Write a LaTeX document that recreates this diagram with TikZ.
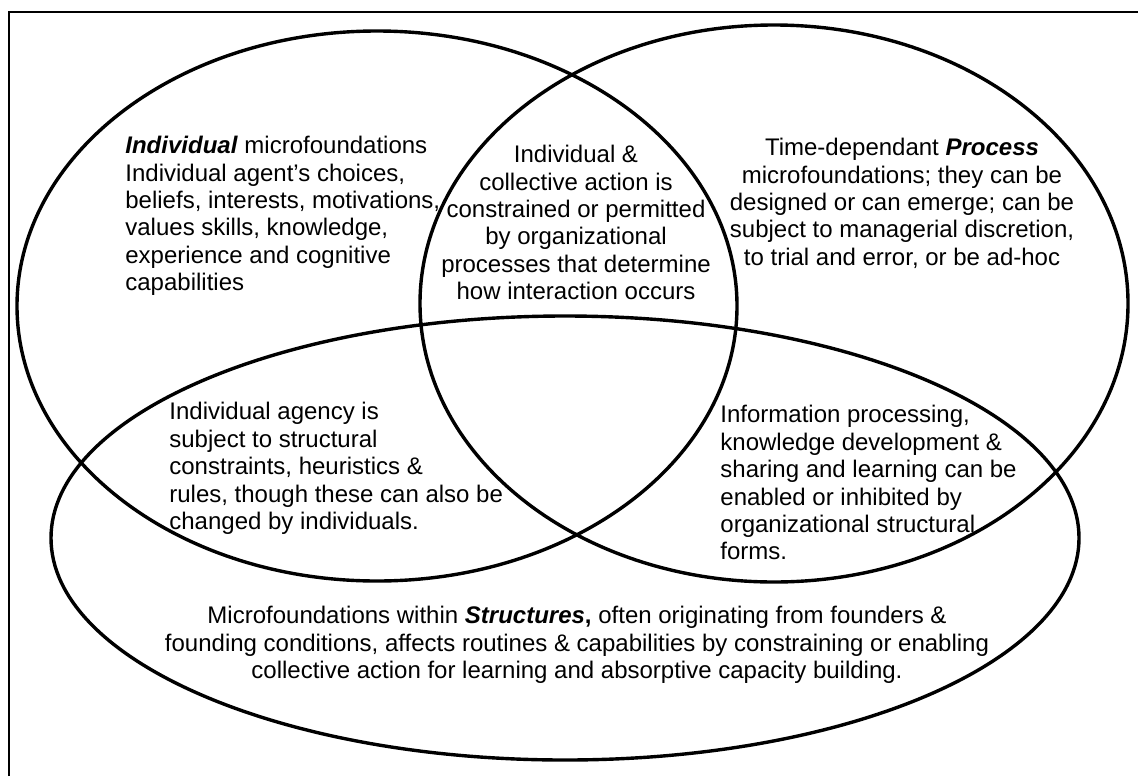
\documentclass[tikz,border=0pt]{standalone}
\usepackage{fontspec}
\setmainfont{Liberation Sans}
\usepackage{tikz}
\usetikzlibrary{calc}

\tikzset{
  circ/.style={line width=1.7pt},
  txt/.style={inner sep=0pt, font=\fontsize{12}{13.7}\selectfont}
}

\begin{document}
\begin{tikzpicture}[x=0.5pt,y=-0.5pt]
\useasboundingbox (0,0) rectangle (1138,776);
\draw[line width=1pt] (8.5,776) -- (8.5,11.5) -- (1138,11.5);

\draw[circ] (377,306) ellipse [x radius=360, y radius=275];
\draw[circ] (774,303.5) ellipse [x radius=354, y radius=278.5];
\draw[circ] (565,538) ellipse [x radius=514, y radius=222];

\node[txt, anchor=north west, align=left] (individual) at (125,136) {%
\textbf{\textit{Individual}} microfoundations\\
Individual agent's choices,\\
beliefs, interests, motivations,\\
values skills, knowledge,\\
experience and cognitive\\
capabilities};
\node[txt, anchor=north, align=center] (action) at (576,145) {%
Individual \&\\
collective action is\\
constrained or permitted\\
by organizational\\
processes that determine\\
how interaction occurs};
\node[txt, anchor=north, align=center] (process) at (902,138) {%
Time-dependant \textbf{\textit{Process}}\\
microfoundations; they can be\\
designed or can emerge; can be\\
subject to managerial discretion,\\
to trial and error, or be ad-hoc};
\node[txt, anchor=north west, align=left] (agency) at (169,402) {%
Individual agency is\\
subject to structural\\
constraints, heuristics \&\\
rules, though these can also be\\
changed by individuals.};
\node[txt, anchor=north west, align=left] (information) at (720,405) {%
Information processing,\\
knowledge development \&\\
sharing and learning can be\\
enabled or inhibited by\\
organizational structural\\
forms.};
\node[txt, anchor=north, align=center] (structures) at (577,606) {%
Microfoundations within \textbf{\textit{Structures}\textbf{,}} often originating from founders \&\\
founding conditions, affects routines \& capabilities by constraining or enabling\\
collective action for learning and absorptive capacity building.};
\end{tikzpicture}
\end{document}
